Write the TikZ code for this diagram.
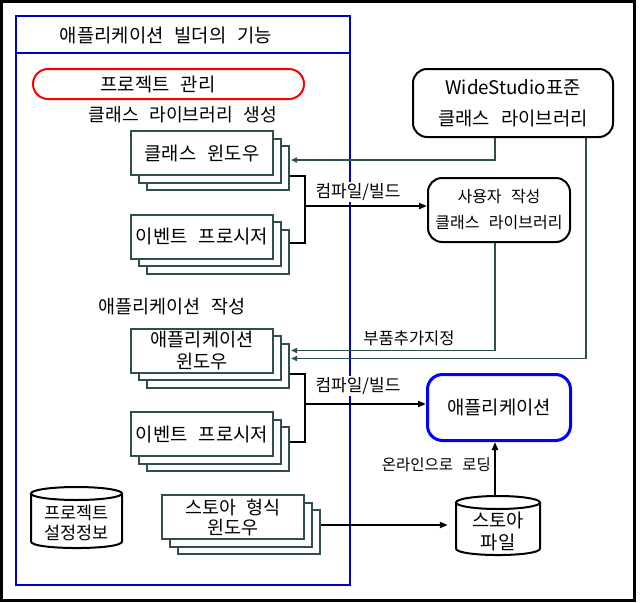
\documentclass[tikz,border=0pt]{standalone}
\usepackage{fontspec}
\setmainfont{Noto Sans CJK KR}[WordSpace=2.6]
\usetikzlibrary{arrows.meta,shadows,calc}
\definecolor{slate}{RGB}{47,79,79}
\definecolor{pblue}{RGB}{0,0,204}
\definecolor{abblue}{RGB}{0,0,255}
\begin{document}
\begin{tikzpicture}[x=1pt,y=-1pt,
  font=\fontsize{18.8}{22}\selectfont,
  every node/.style={inner sep=0pt},
  stackbox/.style={draw=slate,line width=2pt,fill=white,minimum width=142pt,minimum height=44pt,align=center,
    copy shadow={shadow xshift=15.5pt,shadow yshift=-15pt,draw=slate,fill=white,line width=2pt},
    copy shadow={shadow xshift=8pt,shadow yshift=-7.5pt,draw=slate,fill=white,line width=2pt}},
  rbox/.style={draw=black,line width=2pt,fill=white,rounded corners=14pt,align=center},
  conn/.style={line width=2pt,draw=black},
  slconn/.style={line width=1.7pt,draw=slate},
  tip/.style={-{Triangle[length=8pt,width=6pt]}},
  stip/.style={-{Triangle[length=6pt,width=5pt]}},
  cyl/.style={line width=2pt,draw=black,fill=white},
  lbl/.style={fill=white,inner sep=1pt,font=\fontsize{17}{20}\selectfont}]
\useasboundingbox (0,0) rectangle (641,603);
% outer frame
\draw[line width=3pt] (1.5,1.5) rectangle (634,600);
% blue panel
\draw[pblue,line width=2pt] (16,16) rectangle (350,585);
\draw[pblue,line width=2pt] (16,53) -- (350,53);
\node (title) at (166,35) {애플리케이션 빌더의 기능};
% project management
\node[draw=red,line width=2pt,rounded corners=15pt,minimum width=271pt,minimum height=30pt] (pm) at (168.5,84) {};
\node (pmt) at (158,84) {프로젝트 관리};
\node[font=\fontsize{18.2}{22}\selectfont] (sec1) at (183,115) {클래스 라이브러리 생성};
\node[font=\fontsize{18.5}{22}\selectfont] (sec2) at (172,307) {애플리케이션 작성};
% stacks
\node[stackbox] (cw) at (202,153) {클래스 윈도우};
\node[stackbox] (ce) at (202,236.5) {이벤트 프로시저};
\node[stackbox,font=\fontsize{18.6}{22}\selectfont] (aw) at (202,350.5) {애플리케이션\\윈도우};
\node[stackbox] (ae) at (202,434) {이벤트 프로시저};
\node[stackbox,font=\fontsize{18.5}{20}\selectfont] (sw) at (233,517) {스토아 형식\\윈도우};
% right boxes
\node[rbox,minimum width=200pt,minimum height=68pt,font=\fontsize{18.8}{31}\selectfont] (ws) at (513,103) {WideStudio표준\\클래스 라이브러리};
\node[rbox,minimum width=142pt,minimum height=64pt,font=\fontsize{16}{26}\selectfont] (ucl) at (499,210) {사용자 작성\\클래스 라이브러리};
\node[draw=abblue,line width=3pt,fill=white,rounded corners=15pt,minimum width=143pt,minimum height=66pt] (app) at (499,407.5) {애플리케이션};
% cylinders
\node[minimum width=84pt,minimum height=59pt] (sf) at (498,525) {};
\draw[cyl] (456,502.5) -- (456,548.5) .. controls (456,557.2) and (540,557.2) .. (540,548.5) -- (540,502.5);
\draw[cyl] (498,502.5) ellipse [x radius=42pt,y radius=6.5pt];
\node[align=center,font=\fontsize{18.8}{22}\selectfont] (sft) at (498,531) {스토아\\파일};
\node[minimum width=91pt,minimum height=61pt] (pc) at (76.5,517.5) {};
\draw[cyl] (31,493.5) -- (31,541.5) .. controls (31,550.2) and (122,550.2) .. (122,541.5) -- (122,493.5);
\draw[cyl] (76.5,493.5) ellipse [x radius=45.5pt,y radius=6.5pt];
\node[align=center,font=\fontsize{17.5}{20}\selectfont] (pct) at (76.5,523) {프로젝트\\설정정보};
% connectors: class library
\coordinate (j1) at (305,206);
\draw[conn] ([xshift=16pt]cw.south east) -| (j1) |- ([xshift=16pt,yshift=-6.5pt]ce.east);
\node[lbl] (c1) at (358,192) {컴파일/빌드};
\draw[conn,tip] (j1) -- (j1 -| ucl.west);
\draw[slconn,stip] ([xshift=-18pt]ws.south) |- ([xshift=17pt,yshift=-7pt]cw.east);
% parts
\draw[slconn,stip] ([xshift=-4pt]ucl.south) |- ([xshift=17pt]aw.east);
\draw[slconn,stip] ([xshift=73pt]ws.south) |- ([xshift=17pt,yshift=-8pt]aw.east);
\node[font=\fontsize{16.5}{18}\selectfont] (parts) at (409,338) {부품추가지정};
% connectors: application
\coordinate (j2) at (305,404);
\draw[conn] ([xshift=16pt]aw.south east) -| (j2) |- ([xshift=16pt,yshift=-8pt]ae.east);
\node[lbl] (c2) at (358,386) {컴파일/빌드};
\draw[conn,tip] (j2) -- (j2 -| app.west);
% store
\draw[conn,tip] ([xshift=16pt,yshift=-8pt]sw.east) -- ([xshift=-8pt]sf.west);
\draw[conn,tip] ([xshift=-3pt]sf.north) -- ([xshift=-3pt]sf.north |- app.south);
\node[anchor=east,font=\fontsize{15.5}{18}\selectfont] (load) at (491,465) {온라인으로 로딩};
\end{tikzpicture}
\end{document}
